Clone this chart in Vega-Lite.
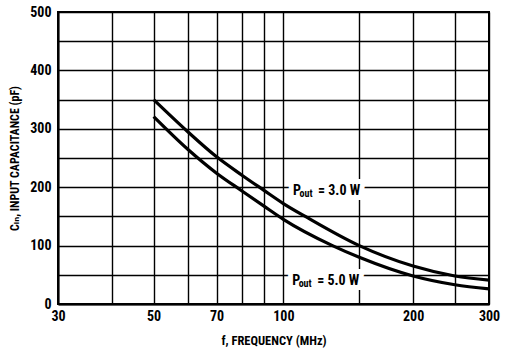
{
  "$schema": "https://vega.github.io/schema/vega-lite/v6.json",
  "width": 431,
  "height": 292,
  "autosize": {"type": "none"},
  "padding": {"left": 58, "top": 12, "right": 17, "bottom": 47},
  "background": "white",
  "config": {
    "view": {"stroke": "black", "strokeWidth": 2},
    "font": "Roboto Condensed, DejaVu Sans Condensed, Liberation Sans, sans-serif",
    "axis": {
      "grid": true, "gridColor": "black", "gridOpacity": 1, "gridWidth": 1.4,
      "ticks": false, "domain": true, "domainColor": "black", "domainWidth": 2,
      "labelFont": "Roboto Condensed, DejaVu Sans Condensed, Liberation Sans, sans-serif", "labelFontWeight": "bold", "labelFontSize": 14, "labelColor": "black",
      "titleFont": "Roboto Condensed, DejaVu Sans Condensed, Liberation Sans, sans-serif", "titleFontWeight": "bold", "titleFontSize": 12.5, "titleColor": "black",
      "labelOverlap": false, "labelFlush": false
    }
  },
  "datasets": {
    "curves": [
      {"series": "3.0 W", "f": 50, "c": 350},
      {"series": "3.0 W", "f": 60, "c": 295},
      {"series": "3.0 W", "f": 70, "c": 252},
      {"series": "3.0 W", "f": 80, "c": 221},
      {"series": "3.0 W", "f": 90, "c": 195},
      {"series": "3.0 W", "f": 100, "c": 172},
      {"series": "3.0 W", "f": 113, "c": 149},
      {"series": "3.0 W", "f": 150, "c": 100},
      {"series": "3.0 W", "f": 200, "c": 65},
      {"series": "3.0 W", "f": 250, "c": 48},
      {"series": "3.0 W", "f": 300, "c": 41},
      {"series": "5.0 W", "f": 50, "c": 321},
      {"series": "5.0 W", "f": 60, "c": 265},
      {"series": "5.0 W", "f": 70, "c": 224},
      {"series": "5.0 W", "f": 80, "c": 194},
      {"series": "5.0 W", "f": 90, "c": 168},
      {"series": "5.0 W", "f": 100, "c": 145},
      {"series": "5.0 W", "f": 130, "c": 100},
      {"series": "5.0 W", "f": 150, "c": 80},
      {"series": "5.0 W", "f": 200, "c": 48},
      {"series": "5.0 W", "f": 250, "c": 33},
      {"series": "5.0 W", "f": 300, "c": 26}
    ],
    "labels": [
      {"f": 105.3, "c": 186, "p": "P", "sub": "out", "rest": "= 3.0 W"},
      {"f": 104.8, "c": 32.5, "p": "P", "sub": "out", "rest": "= 5.0 W"}
    ]
  },
  "encoding": {
    "x": {
      "field": "f", "type": "quantitative",
      "scale": {"type": "log", "domain": [30, 300], "nice": false},
      "axis": {
        "values": [30, 40, 50, 60, 70, 80, 90, 100, 150, 200, 250, 300],
        "labelExpr": "indexof([30, 50, 70, 100, 200, 300], datum.value) >= 0 ? datum.label : ''",
        "labelPadding": 5,
        "title": "f, FREQUENCY (MHz)",
        "titlePadding": 11
      }
    },
    "y": {
      "field": "c", "type": "quantitative",
      "scale": {"domain": [0, 500], "nice": false},
      "axis": {
        "values": [0, 50, 100, 150, 200, 250, 300, 350, 400, 450, 500],
        "labelExpr": "datum.value % 100 == 0 ? datum.label : ''",
        "labelPadding": 7,
        "title": "Cᵢₙ, INPUT CAPACITANCE (pF)",
        "titleFontSize": 12,
        "titlePadding": 8
      }
    }
  },
  "layer": [
    {
      "data": {"name": "curves"},
      "mark": {"type": "line", "interpolate": "monotone", "strokeWidth": 3.2, "color": "black"},
      "encoding": {"detail": {"field": "series"}}
    },
    {
      "data": {"name": "labels"},
      "mark": {"type": "text", "align": "left", "baseline": "alphabetic", "fontSize": 14, "fontWeight": "bold", "color": "white", "stroke": "white", "strokeWidth": 10},
      "encoding": {"text": {"field": "p"}}
    },
    {
      "data": {"name": "labels"},
      "mark": {"type": "text", "align": "left", "baseline": "alphabetic", "fontSize": 10, "fontWeight": "bold", "dx": 6.5, "dy": 1.5, "color": "white", "stroke": "white", "strokeWidth": 16},
      "encoding": {"text": {"field": "sub"}}
    },
    {
      "data": {"name": "labels"},
      "mark": {"type": "text", "align": "left", "baseline": "alphabetic", "fontSize": 14, "fontWeight": "bold", "dx": 25, "color": "white", "stroke": "white", "strokeWidth": 10},
      "encoding": {"text": {"field": "rest"}}
    },
    {
      "data": {"name": "labels"},
      "mark": {"type": "text", "align": "left", "baseline": "alphabetic", "fontSize": 14, "fontWeight": "bold", "color": "black"},
      "encoding": {"text": {"field": "p"}}
    },
    {
      "data": {"name": "labels"},
      "mark": {"type": "text", "align": "left", "baseline": "alphabetic", "fontSize": 10, "fontWeight": "bold", "dx": 6.5, "dy": 1.5, "color": "black"},
      "encoding": {"text": {"field": "sub"}}
    },
    {
      "data": {"name": "labels"},
      "mark": {"type": "text", "align": "left", "baseline": "alphabetic", "fontSize": 14, "fontWeight": "bold", "dx": 25, "color": "black"},
      "encoding": {"text": {"field": "rest"}}
    }
  ]
}
